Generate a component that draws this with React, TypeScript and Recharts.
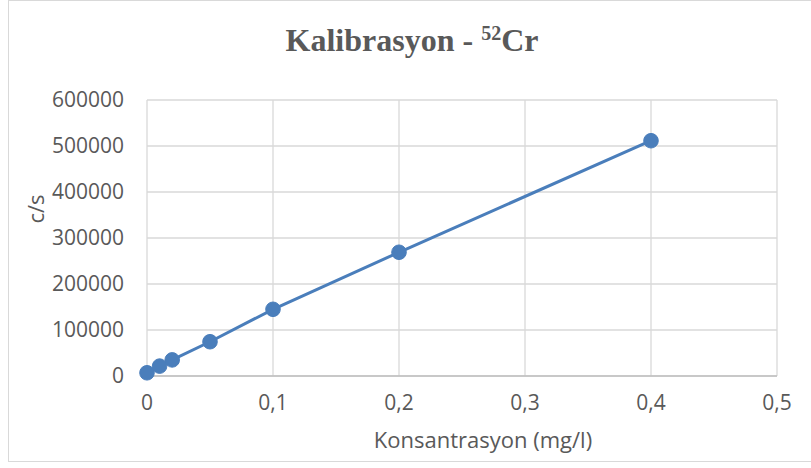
import { LineChart, Line, XAxis, YAxis, CartesianGrid, Label } from 'recharts'

const konsantrasyon = [0, 0.01, 0.02, 0.05, 0.1, 0.2, 0.4]
const sayim = [7000, 21500, 35000, 74500, 145000, 269000, 511500]
const xTicks = [0, 0.1, 0.2, 0.3, 0.4, 0.5]
const yTicks = [0, 100000, 200000, 300000, 400000, 500000, 600000]

const data = konsantrasyon.map((k, i) => ({ k, cps: sayim[i] }))

const FONT = '"Open Sans", "Noto Sans", sans-serif'
const TXT = '#595959'
const BLUE = '#4a7ebb'

export default function App() {
  return (
    <div style={{ position:'absolute', left:8, top:0, width:806, height:460, border:'1px solid #d9d9d9', background:'#fff' }}>
      <div style={{ position:'absolute', left:0, top:21, width:'100%', textAlign:'center',
        fontFamily:'"Liberation Serif", "Times New Roman", serif', fontWeight:'bold', fontSize:32, color:TXT, lineHeight:'36px' }}>
        Kalibrasyon - <sup style={{ fontSize:20, verticalAlign:'top', lineHeight:'22px' }}>52</sup>Cr
      </div>
      <LineChart width={806} height={460} data={data} margin={{ top:99, right:38, left:0, bottom:5 }}>
        <CartesianGrid stroke="#d9d9d9" strokeWidth={1.3} />
        <XAxis dataKey="k" type="number" domain={[0, 0.5]} ticks={xTicks} interval={0}
          tickFormatter={(v:number)=>String(v).replace('.', ',')}
          tick={{ fill:TXT, fontSize:21, fontFamily:FONT }} tickLine={false} tickSize={0} tickMargin={19}
          axisLine={{ stroke:'#bfbfbf', strokeWidth:1.5 }} height={80}>
          <Label content={({ viewBox }: any) => (
            <text x={viewBox.x + viewBox.width / 2 + 21} y={viewBox.y + 72} textAnchor="middle"
              fill={TXT} fontSize={22} fontFamily={FONT}>Konsantrasyon (mg/l)</text>
          )} />
        </XAxis>
        <YAxis type="number" domain={[0, 600000]} ticks={yTicks} interval={0}
          tick={{ fill:TXT, fontSize:21, fontFamily:FONT }} tickLine={false} tickSize={0} tickMargin={23}
          axisLine={false} width={138}>
          <Label content={({ viewBox }: any) => {
            const cy = viewBox.y + 109
            return (
              <text x={26} y={cy} transform={`rotate(-90 26 ${cy})`} textAnchor="middle" dominantBaseline="central"
                fill={TXT} fontSize={22} fontFamily={FONT}>c/s</text>
            )
          }} />
        </YAxis>
        <Line type="linear" dataKey="cps" stroke={BLUE} strokeWidth={3}
          dot={{ r:7.3, fill:BLUE, stroke:BLUE, strokeWidth:1 }} activeDot={false} isAnimationActive={false} />
      </LineChart>
    </div>
  )
}
